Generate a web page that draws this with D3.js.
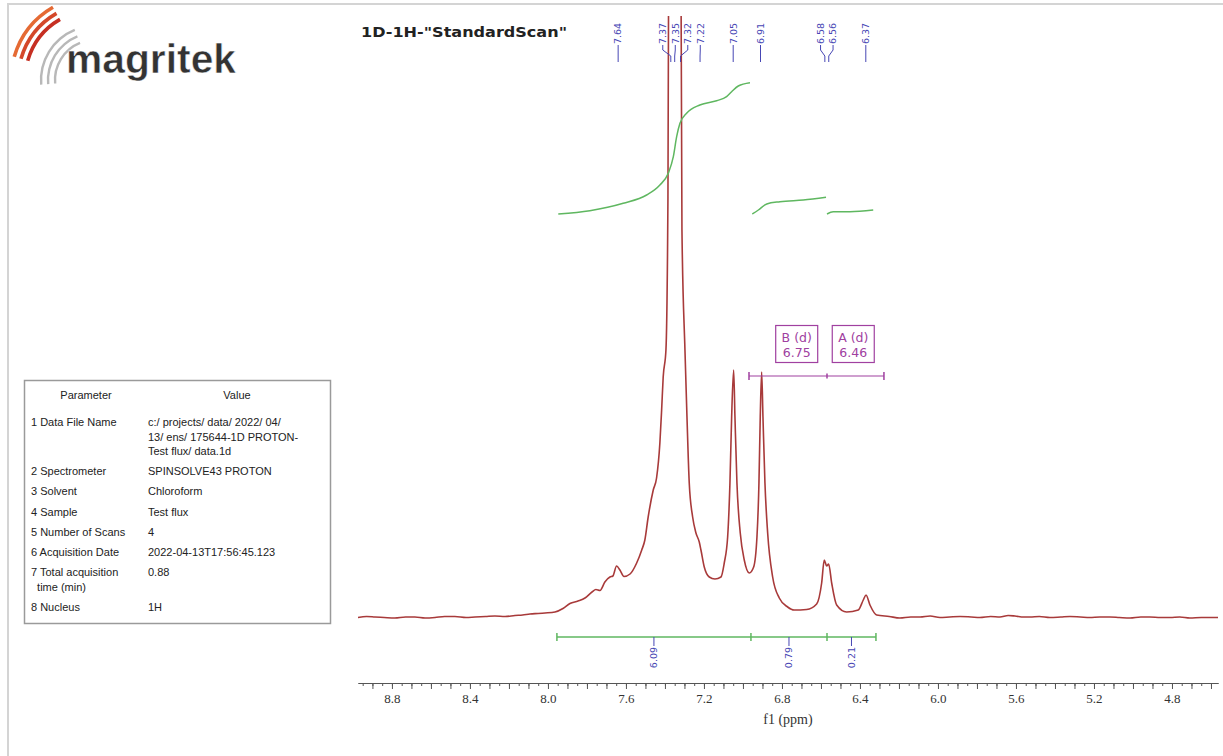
<!DOCTYPE html>
<html>
<head>
<meta charset="utf-8">
<script src="https://cdn.jsdelivr.net/npm/d3@7"></script>
<style>
  body { margin: 0; background: #fff; }
  svg { display: block; }
</style>
</head>
<body>
<svg id="chart" width="1223" height="756"></svg>
<script>
// spectrum: [ppm, intensity]
const spectrumPoints = [
  [8.974, -0.5], [8.93, 0.5], [8.887, 0], [8.84, -0.5], [8.785, -1], [8.73, 0], [8.682, 0], [8.63, -1],
  [8.579, -0.5], [8.53, 0.5], [8.477, 0.5], [8.42, -0.5], [8.374, 0], [8.32, 0.5], [8.272, 1], [8.22, 0.5],
  [8.169, 1.5], [8.13, 2], [8.092, 3], [8.05, 3.5], [8.015, 4], [7.964, 5], [7.923, 8.5], [7.887, 13.5],
  [7.846, 16], [7.81, 19], [7.774, 25], [7.754, 27.5], [7.733, 26.5], [7.708, 35], [7.682, 40], [7.667, 41],
  [7.648, 51], [7.631, 47], [7.61, 40.5], [7.579, 43], [7.545, 54], [7.519, 67], [7.503, 77], [7.486, 100],
  [7.46, 127], [7.443, 139], [7.426, 174], [7.417, 207], [7.409, 240], [7.3949, 267], [7.3846, 420],
  [7.381, 650], [7.3764, 2000], [7.3723, 900], [7.359, 700], [7.3487, 650], [7.3385, 700],
  [7.3262, 900], [7.3221, 2000], [7.3179, 650], [7.3128, 387], [7.2974, 267], [7.2872, 201],
  [7.2754, 134], [7.258, 100], [7.241, 84], [7.224, 75], [7.2154, 67], [7.1984, 50], [7.1728, 40],
  [7.1436, 38], [7.1128, 40], [7.0959, 54], [7.0785, 80], [7.0667, 134], [7.058, 200], [7.0477, 247],
  [7.041, 200], [7.0308, 134], [7.0138, 84], [6.9933, 57], [6.9677, 44], [6.9451, 50], [6.9282, 80],
  [6.918, 134], [6.9113, 200], [6.9041, 245], [6.8974, 200], [6.8872, 134], [6.8733, 84], [6.8477, 40],
  [6.8138, 19], [6.7708, 10], [6.7379, 7], [6.6733, 7.5], [6.622, 13], [6.5964, 34], [6.583, 57],
  [6.5708, 51], [6.5605, 53], [6.5451, 34], [6.5195, 12], [6.4682, 5], [6.4087, 7], [6.383, 17],
  [6.369, 22], [6.3487, 12], [6.3143, 2], [6.25, 0.5], [6.195, -1], [6.14, 0], [6.092, 0], [6.04, 1],
  [5.99, -0.5], [5.94, 0], [5.887, 0.5], [5.83, 0], [5.785, -0.5], [5.73, 0.5], [5.682, 0], [5.64, 1.5],
  [5.605, 1], [5.56, 0], [5.528, 0], [5.48, 0.5], [5.426, -0.5], [5.37, 0], [5.323, 0.5], [5.27, 0],
  [5.221, -0.5], [5.17, 0], [5.118, 0], [5.07, -0.5], [5.015, -1], [4.96, 0], [4.913, 0], [4.86, -0.5],
  [4.81, -0.5], [4.76, 0], [4.708, -1], [4.65, -0.5], [4.605, -0.5], [4.564, -0.5]
];

// integral curves: [ppm, height]
const integralCurves = [
  [[7.947, 0], [7.785, 3.3], [7.614, 10.7], [7.494, 19], [7.426, 29], [7.383, 40.7], [7.357, 57.3],
   [7.34, 77.3], [7.323, 90.7], [7.289, 100.7], [7.221, 109], [7.135, 113.3], [7.084, 117.3],
   [7.058, 122.3], [7.024, 128], [6.964, 131.3]],
  [[6.952, 0], [6.921, 4], [6.878, 10], [6.81, 12.3], [6.691, 14], [6.574, 16.7]],
  [[6.569, 0], [6.537, 2.3], [6.451, 2.3], [6.332, 4]]
];

const integralRanges = [[7.954, 6.959], [6.959, 6.569], [6.569, 6.318]];
const integralValues = [6.09, 0.79, 0.21];

const peakShifts = [7.64, 7.37, 7.35, 7.32, 7.22, 7.05, 6.91, 6.58, 6.56, 6.37];

const multipletLabels = ["B (d)", "A (d)"];
const multipletShifts = [6.75, 6.46];
const multipletRanges = [[6.969, 6.569], [6.569, 6.277]];

const axisLabels = [8.8, 8.4, 8.0, 7.6, 7.2, 6.8, 6.4, 6.0, 5.6, 5.2, 4.8];

const paramLabels = [
  ["1 Data File Name"], ["2 Spectrometer"], ["3 Solvent"], ["4 Sample"], ["5 Number of Scans"],
  ["6 Acquisition Date"], ["7 Total acquisition", "  time (min)"], ["8 Nucleus"]
];
const paramValues = [
  ["c:/ projects/ data/ 2022/ 04/", "13/ ens/ 175644-1D PROTON-", "Test flux/ data.1d"],
  ["SPINSOLVE43 PROTON"], ["Chloroform"], ["Test flux"], ["4"],
  ["2022-04-13T17:56:45.123"], ["0.88"], ["1H"]
];

const RED = "#a83a3a";
const GREEN = "#5fb760";
const BLUE = "#4646b4";
const PURPLE = "#a040a0";

const svg = d3.select("#chart");

const x = d3.scaleLinear().domain([8.974, 4.564]).range([358, 1218]);
const y = d3.scaleLinear().domain([0, 600]).range([617, 17]);
const yInt = d3.scaleLinear().domain([0, 200]).range([214, 14]);

svg.append("rect").attr("width", 1223).attr("height", 756).attr("fill", "#fff");
svg.append("path")
  .attr("d", "M8,760 V4 H1230")
  .attr("fill", "none").attr("stroke", "#d4d4d4").attr("stroke-width", 2);

// ---- logo
function drawLogo() {
  const g = svg.append("g").attr("transform", "translate(95,80)");
  const rad = Math.PI / 180;
  [40, 47, 54].forEach((r) => {
    g.append("path")
      .attr("d", d3.arc()({ innerRadius: r - 1.2, outerRadius: r + 1.2, startAngle: -95 * rad, endAngle: -22 * rad }))
      .attr("fill", "#b8b8b8");
  });
  ["#c62f22", "#d4482a", "#e56a34"].forEach((c, i) => {
    const r = 70 + i * 7;
    g.append("path")
      .attr("d", d3.arc()({ innerRadius: r - 1.8, outerRadius: r + 1.8, startAngle: -74 * rad, endAngle: -30 * rad }))
      .attr("fill", c);
  });
  svg.append("text")
    .attr("x", 66).attr("y", 73)
    .attr("font-family", "'Liberation Sans', Arial, sans-serif")
    .attr("font-weight", "bold").attr("font-size", 40)
    .attr("textLength", 170).attr("lengthAdjust", "spacingAndGlyphs")
    .attr("fill", "#333").attr("stroke", "#fff").attr("stroke-width", 0.5)
    .text("magritek");
}
drawLogo();

svg.append("text")
  .attr("x", 361).attr("y", 37)
  .attr("font-family", "'DejaVu Sans', Verdana, sans-serif")
  .attr("font-weight", "bold").attr("font-size", 14)
  .attr("textLength", 206).attr("lengthAdjust", "spacingAndGlyphs")
  .attr("fill", "#222")
  .text('1D-1H-"StandardScan"');

// ---- parameter table
function drawTable() {
  const g = svg.append("g")
    .attr("font-family", "'Liberation Sans', Arial, sans-serif")
    .attr("font-size", 11).attr("fill", "#222");
  g.append("rect").attr("x", 24.5).attr("y", 380.5).attr("width", 306).attr("height", 243)
    .attr("fill", "none").attr("stroke", "#9a9a9a").attr("stroke-width", 1.5);
  g.append("text").attr("x", 86).attr("y", 399).attr("text-anchor", "middle").text("Parameter");
  g.append("text").attr("x", 237).attr("y", 399).attr("text-anchor", "middle").text("Value");
  let base = 426;
  paramLabels.forEach((lab, i) => {
    const vals = paramValues[i];
    lab.forEach((t, j) => {
      g.append("text").attr("x", 31).attr("y", base + j * 14.5).attr("xml:space", "preserve").text(t);
    });
    vals.forEach((t, j) => {
      g.append("text").attr("x", 148).attr("y", base + j * 14.5).text(t);
    });
    const lines = Math.max(lab.length, vals.length);
    base += (lines - 1) * 14.5 + 20.2;
  });
}
drawTable();

// ---- spectrum
svg.append("clipPath").attr("id", "plot-clip")
  .append("rect").attr("x", 356).attr("y", 16).attr("width", 866).attr("height", 670);

const specLine = d3.line()
  .x((d) => x(d[0]))
  .y((d) => y(d[1]))
  .curve(d3.curveMonotoneX);

svg.append("path")
  .datum(spectrumPoints)
  .attr("clip-path", "url(#plot-clip)")
  .attr("fill", "none").attr("stroke", RED).attr("stroke-width", 1.6)
  .attr("stroke-linejoin", "round")
  .attr("d", specLine);

// ---- integrals
const intLine = d3.line()
  .x((d) => x(d[0]))
  .y((d) => yInt(d[1]))
  .curve(d3.curveMonotoneX);

svg.append("g").selectAll("path")
  .data(integralCurves)
  .join("path")
  .attr("fill", "none").attr("stroke", GREEN).attr("stroke-width", 1.5)
  .attr("d", intLine);

const barY = 637;
const intBar = svg.append("g");
intBar.append("line")
  .attr("x1", x(integralRanges[0][0])).attr("x2", x(integralRanges[integralRanges.length - 1][1]))
  .attr("y1", barY).attr("y2", barY)
  .attr("stroke", GREEN).attr("stroke-width", 1.5);
const bounds = [integralRanges[0][0], ...integralRanges.map((r) => r[1])];
intBar.selectAll("line.tk")
  .data(bounds)
  .join("line").attr("class", "tk")
  .attr("x1", (d) => x(d)).attr("x2", (d) => x(d))
  .attr("y1", barY - 4).attr("y2", barY + 4)
  .attr("stroke", GREEN).attr("stroke-width", 1.5);
integralRanges.forEach((r, i) => {
  const mx = (x(r[0]) + x(r[1])) / 2;
  intBar.append("line").attr("x1", mx).attr("x2", mx).attr("y1", barY).attr("y2", barY + 9)
    .attr("stroke", BLUE).attr("stroke-width", 1);
  intBar.append("text")
    .attr("transform", `translate(${mx},${barY + 10}) rotate(-90)`)
    .attr("text-anchor", "end").attr("dy", "0.35em")
    .attr("font-family", "'DejaVu Sans', sans-serif").attr("font-size", 9.5)
    .attr("fill", BLUE)
    .text(integralValues[i].toFixed(2));
});

// ---- peak labels
function drawPeakLabels() {
  const gap = 12.5;
  const pos = peakShifts.map((p) => x(p));
  for (let k = 0; k < 200; k++) {
    for (let i = 0; i < pos.length - 1; i++) {
      const d = pos[i + 1] - pos[i];
      if (d < gap) {
        const s = (gap - d) / 2;
        pos[i] -= s;
        pos[i + 1] += s;
      }
    }
  }
  const g = svg.append("g");
  peakShifts.forEach((p, i) => {
    const px = x(p);
    const lx = pos[i];
    g.append("path")
      .attr("d", `M${lx},45 V50 L${px},56 V62`)
      .attr("fill", "none").attr("stroke", BLUE).attr("stroke-width", 1);
    g.append("text")
      .attr("transform", `translate(${lx},44) rotate(-90)`)
      .attr("dy", "0.35em")
      .attr("font-family", "'DejaVu Sans', sans-serif").attr("font-size", 9.5)
      .attr("fill", BLUE)
      .text(p.toFixed(2));
  });
}
drawPeakLabels();

// ---- multiplets
function drawMultiplets() {
  const g = svg.append("g").attr("fill", PURPLE).attr("font-family", "'DejaVu Sans', sans-serif");
  const lineY = 376;
  const all = [multipletRanges[0][0], ...multipletRanges.map((r) => r[1])];
  g.append("line")
    .attr("x1", x(all[0])).attr("x2", x(all[all.length - 1]))
    .attr("y1", lineY).attr("y2", lineY)
    .attr("stroke", PURPLE).attr("stroke-width", 1.2);
  all.forEach((v, i) => {
    const h = (i === 0 || i === all.length - 1) ? 4 : 2.5;
    g.append("line").attr("x1", x(v)).attr("x2", x(v)).attr("y1", lineY - h).attr("y2", lineY + h)
      .attr("stroke", PURPLE).attr("stroke-width", 1.5);
  });
  multipletShifts.forEach((s, i) => {
    const cx = x(s) + 5;
    g.append("rect").attr("x", cx - 21).attr("y", 325.5).attr("width", 42).attr("height", 37)
      .attr("fill", "#fff").attr("stroke", PURPLE).attr("stroke-width", 1.2);
    g.append("text").attr("x", cx).attr("y", 342).attr("text-anchor", "middle").attr("font-size", 12.5)
      .text(multipletLabels[i]);
    g.append("text").attr("x", cx).attr("y", 357).attr("text-anchor", "middle").attr("font-size", 12.5)
      .text(s.toFixed(2));
  });
}
drawMultiplets();

// ---- x axis
const axisY = 683;
const minorTicks = d3.range(4.6, 8.96, 0.05).map((v) => +v.toFixed(2));
const majorTicks = d3.range(4.6, 8.96, 0.1).map((v) => +v.toFixed(1));

const axG = svg.append("g").attr("transform", `translate(0,${axisY})`);
axG.append("g").call(d3.axisBottom(x).tickValues(minorTicks).tickSize(3).tickSizeOuter(0).tickFormat(""));
axG.append("g").call(d3.axisBottom(x).tickValues(majorTicks).tickSize(6).tickSizeOuter(0).tickFormat(""));
const lab = axG.append("g").call(d3.axisBottom(x).tickValues(axisLabels).tickSize(0).tickPadding(11)
  .tickFormat(d3.format(".1f")));
lab.select(".domain").remove();
axG.selectAll("path.domain").attr("stroke", "#555");
axG.selectAll(".tick line").attr("stroke", "#555");
lab.selectAll("text")
  .attr("font-family", "'Liberation Serif', 'Times New Roman', serif")
  .attr("font-size", 13).attr("fill", "#333");

svg.append("text")
  .attr("x", (x.range()[0] + x.range()[1]) / 2).attr("y", 724)
  .attr("text-anchor", "middle")
  .attr("font-family", "'Liberation Serif', 'Times New Roman', serif")
  .attr("font-size", 14).attr("fill", "#333")
  .text("f1 (ppm)");
</script>
</body>
</html>
